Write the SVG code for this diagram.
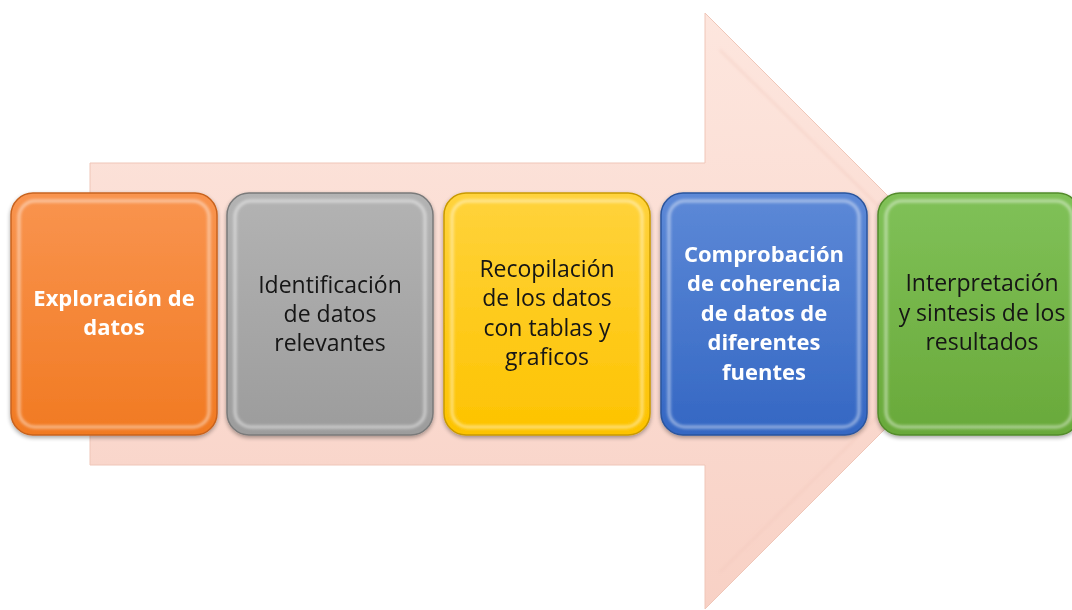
<svg xmlns="http://www.w3.org/2000/svg" width="1072" height="610" viewBox="0 0 1072 610">
<defs>
<style>
.t{font-family:"Open Sans","Noto Sans",sans-serif;font-size:23px;text-anchor:middle;fill:#141414}
.b{font-weight:bold;fill:#ffffff;font-size:22px}
.hl{fill:none;stroke:#ffffff;stroke-opacity:0.5;stroke-width:3}
</style>
<linearGradient id="gArrow" x1="0" y1="0" x2="0" y2="1">
<stop offset="0" stop-color="#fde6de"/>
<stop offset="1" stop-color="#f8d1c5"/>
</linearGradient>
<linearGradient id="gOr" x1="0" y1="0" x2="0" y2="1">
<stop offset="0" stop-color="#f9944f"/>
<stop offset="1" stop-color="#f17a22"/>
</linearGradient>
<linearGradient id="gGr" x1="0" y1="0" x2="0" y2="1">
<stop offset="0" stop-color="#b3b3b3"/>
<stop offset="1" stop-color="#9c9c9c"/>
</linearGradient>
<linearGradient id="gYe" x1="0" y1="0" x2="0" y2="1">
<stop offset="0" stop-color="#ffd33c"/>
<stop offset="1" stop-color="#fdc300"/>
</linearGradient>
<linearGradient id="gBl" x1="0" y1="0" x2="0" y2="1">
<stop offset="0" stop-color="#5d89d7"/>
<stop offset="1" stop-color="#3467c3"/>
</linearGradient>
<linearGradient id="gGn" x1="0" y1="0" x2="0" y2="1">
<stop offset="0" stop-color="#80c158"/>
<stop offset="1" stop-color="#69a93a"/>
</linearGradient>
<filter id="soft" x="-10%" y="-10%" width="120%" height="120%">
<feGaussianBlur stdDeviation="1.5"/>
</filter>
<filter id="drop" x="-10%" y="-10%" width="120%" height="125%">
<feGaussianBlur in="SourceAlpha" stdDeviation="2"/>
<feOffset dx="0" dy="2" result="o"/>
<feComponentTransfer><feFuncA type="linear" slope="0.35"/></feComponentTransfer>
<feMerge><feMergeNode/><feMergeNode in="SourceGraphic"/></feMerge>
</filter>
</defs>
<rect width="1072" height="610" fill="#ffffff"/>

<g id="arrow">
<path d="M90,163 H705 V13 L1003,311 L705,609 V465 H90 Z" fill="url(#gArrow)" stroke="#efc6b8" stroke-width="1"/>
<path d="M720,50 L985,311 L720,572" fill="none" stroke="#f1c8bb" stroke-opacity="0.5" stroke-width="2" filter="url(#soft)"/>
</g>

<g id="n1" filter="url(#drop)">
<rect x="11" y="193" width="206" height="242" rx="22" fill="url(#gOr)" stroke="#c8631f" stroke-width="1.5"/>
<rect x="19" y="201" width="190" height="226" rx="16" class="hl" filter="url(#soft)"/>
<text class="t b" x="114" y="306">Exploración de</text>
<text class="t b" x="114" y="335">datos</text>
</g>

<g id="n2" filter="url(#drop)">
<rect x="227" y="193" width="206" height="242" rx="22" fill="url(#gGr)" stroke="#7a7a7a" stroke-width="1.5"/>
<rect x="235" y="201" width="190" height="226" rx="16" class="hl" filter="url(#soft)"/>
<text class="t" x="330" y="293">Identificación</text>
<text class="t" x="330" y="322">de datos</text>
<text class="t" x="330" y="351">relevantes</text>
</g>

<g id="n3" filter="url(#drop)">
<rect x="444" y="193" width="206" height="242" rx="22" fill="url(#gYe)" stroke="#c99a00" stroke-width="1.5"/>
<rect x="452" y="201" width="190" height="226" rx="16" class="hl" filter="url(#soft)"/>
<text class="t" x="547" y="277">Recopilación</text>
<text class="t" x="547" y="306">de los datos</text>
<text class="t" x="547" y="336">con tablas y</text>
<text class="t" x="547" y="365">graficos</text>
</g>

<g id="n4" filter="url(#drop)">
<rect x="661" y="193" width="206" height="242" rx="22" fill="url(#gBl)" stroke="#2a559e" stroke-width="1.5"/>
<rect x="669" y="201" width="190" height="226" rx="16" class="hl" filter="url(#soft)"/>
<text class="t b" x="764" y="262">Comprobación</text>
<text class="t b" x="764" y="291">de coherencia</text>
<text class="t b" x="764" y="321">de datos de</text>
<text class="t b" x="764" y="350">diferentes</text>
<text class="t b" x="764" y="380">fuentes</text>
</g>

<g id="n5" filter="url(#drop)">
<rect x="878" y="193" width="202" height="242" rx="22" fill="url(#gGn)" stroke="#528a2b" stroke-width="1.5"/>
<rect x="886" y="201" width="186" height="226" rx="16" class="hl" filter="url(#soft)"/>
<text class="t" x="982" y="291">Interpretación</text>
<text class="t" x="982" y="321">y sintesis de los</text>
<text class="t" x="982" y="350">resultados</text>
</g>

<g id="connectors"></g>
</svg>
